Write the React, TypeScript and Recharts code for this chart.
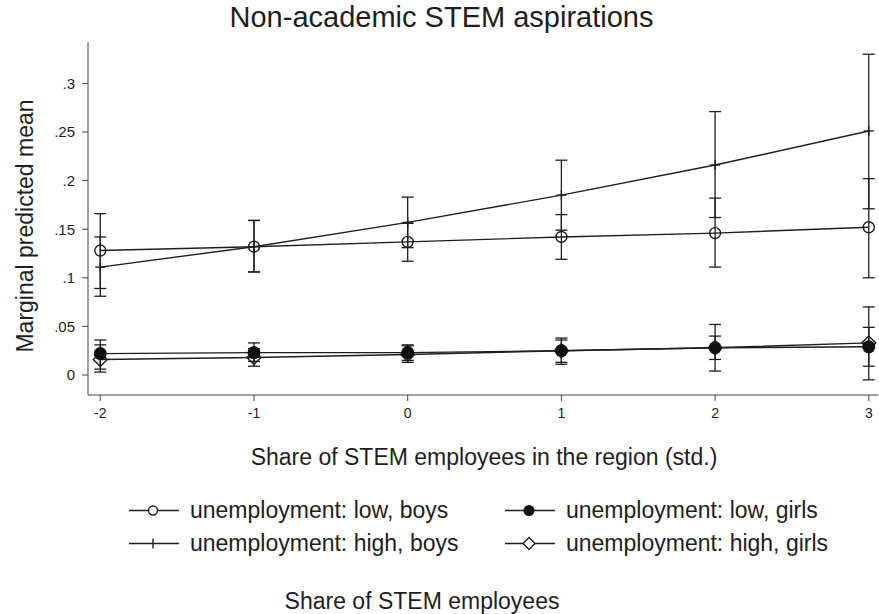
import React from "react";
import { ComposedChart, Line, XAxis, YAxis, ErrorBar } from "recharts";

const xVals = [-2, -1, 0, 1, 2, 3];
const yTicks = [0, 0.05, 0.1, 0.15, 0.2, 0.25, 0.3];

const lowBoys = [0.128, 0.132, 0.137, 0.142, 0.146, 0.152];
const lowBoysLo = [0.089, 0.106, 0.117, 0.119, 0.111, 0.1];
const lowBoysHi = [0.166, 0.159, 0.156, 0.165, 0.182, 0.202];

const highBoys = [0.111, 0.132, 0.157, 0.185, 0.216, 0.251];
const highBoysLo = [0.081, 0.106, 0.131, 0.149, 0.162, 0.171];
const highBoysHi = [0.142, 0.159, 0.183, 0.221, 0.271, 0.33];

const lowGirls = [0.022, 0.023, 0.023, 0.025, 0.028, 0.029];
const lowGirlsLo = [0.006, 0.014, 0.015, 0.013, 0.016, 0.009];
const lowGirlsHi = [0.036, 0.033, 0.031, 0.036, 0.04, 0.049];

const highGirls = [0.016, 0.018, 0.021, 0.025, 0.028, 0.033];
const highGirlsLo = [0.003, 0.009, 0.013, 0.011, 0.004, -0.005];
const highGirlsHi = [0.031, 0.027, 0.03, 0.038, 0.052, 0.07];

const seriesNames = [
  "unemployment: low, boys",
  "unemployment: low, girls",
  "unemployment: high, boys",
  "unemployment: high, girls",
];

const title = "Non-academic STEM aspirations";
const yLabel = "Marginal predicted mean";
const xLabel = "Share of STEM employees in the region (std.)";
const caption = "Share of STEM employees";

const data = xVals.map((x, i) => ({
  x,
  lowBoys: lowBoys[i],
  lowBoysErr: [lowBoys[i] - lowBoysLo[i], lowBoysHi[i] - lowBoys[i]],
  highBoys: highBoys[i],
  highBoysErr: [highBoys[i] - highBoysLo[i], highBoysHi[i] - highBoys[i]],
  lowGirls: lowGirls[i],
  lowGirlsErr: [lowGirls[i] - lowGirlsLo[i], lowGirlsHi[i] - lowGirls[i]],
  highGirls: highGirls[i],
  highGirlsErr: [highGirls[i] - highGirlsLo[i], highGirlsHi[i] - highGirls[i]],
}));

const INK = "#1e1e1e";
const FONT = "'Liberation Sans', Arial, sans-serif";

const OpenCircle = (p: any) =>
  p.cx == null ? null : (
    <circle key={p.index} cx={p.cx} cy={p.cy} r={5.5} fill="none" stroke={INK} strokeWidth={1.4} />
  );
const FilledCircle = (p: any) =>
  p.cx == null ? null : <circle key={p.index} cx={p.cx} cy={p.cy} r={6.5} fill="#111" stroke="none" />;
const Plus = (p: any) =>
  p.cx == null ? null : (
    <g key={p.index} stroke={INK} strokeWidth={1.4}>
      <line x1={p.cx - 5} y1={p.cy} x2={p.cx + 5} y2={p.cy} />
      <line x1={p.cx} y1={p.cy - 5} x2={p.cx} y2={p.cy + 5} />
    </g>
  );
const Diamond = (p: any) =>
  p.cx == null ? null : (
    <path
      key={p.index}
      d={`M${p.cx},${p.cy - 7} L${p.cx + 7},${p.cy} L${p.cx},${p.cy + 7} L${p.cx - 7},${p.cy} Z`}
      fill="none"
      stroke={INK}
      strokeWidth={1.4}
    />
  );

const fmtY = (v: number) => (v === 0 ? "0" : String(v).replace(/^0/, ""));

const LegendItem = ({ left, top, marker, text }: any) => (
  <div style={{ position: "absolute", left, top, transform: "translateY(-50%)", display: "flex", alignItems: "center" }}>
    <svg width={50} height={20} style={{ display: "block" }}>
      <line x1={0} y1={10} x2={50} y2={10} stroke={INK} strokeWidth={1.4} />
      {marker === "oc" && <circle cx={24} cy={10} r={4.5} fill="white" stroke={INK} strokeWidth={1.4} />}
      {marker === "fc" && <circle cx={24} cy={10} r={5.5} fill="#111" />}
      {marker === "plus" && <line x1={24} y1={5} x2={24} y2={15} stroke={INK} strokeWidth={1.4} />}
      {marker === "dia" && (
        <path d="M24,4 L30,10 L24,16 L18,10 Z" fill="white" stroke={INK} strokeWidth={1.4} />
      )}
    </svg>
    <span style={{ marginLeft: 11, fontSize: 23, color: INK, fontFamily: FONT, whiteSpace: "nowrap" }}>{text}</span>
  </div>
);

export default function App() {
  return (
    <div style={{ position: "absolute", left: 0, top: 0, width: 879, height: 614, background: "#fff" }}>
      <ComposedChart
        width={879}
        height={614}
        data={data}
        margin={{ top: 42, right: 1, bottom: 189, left: 0 }}
      >
        <XAxis
          type="number"
          dataKey="x"
          domain={[-2.08, 3.06]}
          ticks={xVals}
          allowDataOverflow
          height={30}
          tickSize={6}
          tickMargin={7}
          stroke="#444"
          tick={{ fontSize: 14, fill: INK, fontFamily: FONT }}
        />
        <YAxis
          type="number"
          domain={[-0.0206, 0.3426]}
          ticks={yTicks}
          allowDataOverflow
          width={88}
          tickSize={6}
          tickMargin={7}
          stroke="#444"
          tickFormatter={fmtY}
          tick={{ fontSize: 15, fill: INK, fontFamily: FONT }}
        />
        <Line dataKey="lowBoys" stroke={INK} strokeWidth={1.4} dot={OpenCircle} isAnimationActive={false}>
          <ErrorBar dataKey="lowBoysErr" direction="y" width={6} stroke={INK} strokeWidth={1.3} />
        </Line>
        <Line dataKey="highBoys" stroke={INK} strokeWidth={1.4} dot={Plus} isAnimationActive={false}>
          <ErrorBar dataKey="highBoysErr" direction="y" width={6} stroke={INK} strokeWidth={1.3} />
        </Line>
        <Line dataKey="highGirls" stroke={INK} strokeWidth={1.4} dot={Diamond} isAnimationActive={false}>
          <ErrorBar dataKey="highGirlsErr" direction="y" width={6} stroke={INK} strokeWidth={1.3} />
        </Line>
        <Line dataKey="lowGirls" stroke={INK} strokeWidth={1.4} dot={FilledCircle} isAnimationActive={false}>
          <ErrorBar dataKey="lowGirlsErr" direction="y" width={6} stroke={INK} strokeWidth={1.3} />
        </Line>
      </ComposedChart>

      <div
        style={{
          position: "absolute", left: 0, width: 879, top: 1, textAlign: "center",
          fontSize: 29, fontFamily: FONT, color: INK, paddingLeft: 2,
        }}
      >
        {title}
      </div>
      <div style={{ position: "absolute", left: 25, top: 226, width: 0, height: 0 }}>
        <div
          style={{
            position: "absolute", transform: "translate(-50%, -50%) rotate(-90deg)",
            fontSize: 23, fontFamily: FONT, color: INK, whiteSpace: "nowrap",
          }}
        >
          {yLabel}
        </div>
      </div>
      <div
        style={{
          position: "absolute", left: 484, top: 457, transform: "translate(-50%, -50%)",
          fontSize: 23, fontFamily: FONT, color: INK, whiteSpace: "nowrap",
        }}
      >
        {xLabel}
      </div>

      <LegendItem left={129} top={510} marker="oc" text={seriesNames[0]} />
      <LegendItem left={505} top={510} marker="fc" text={seriesNames[1]} />
      <LegendItem left={129} top={543} marker="plus" text={seriesNames[2]} />
      <LegendItem left={505} top={543} marker="dia" text={seriesNames[3]} />

      <div
        style={{
          position: "absolute", left: 422, top: 601, transform: "translate(-50%, -50%)",
          fontSize: 23, fontFamily: FONT, color: INK, whiteSpace: "nowrap",
        }}
      >
        {caption}
      </div>
    </div>
  );
}
